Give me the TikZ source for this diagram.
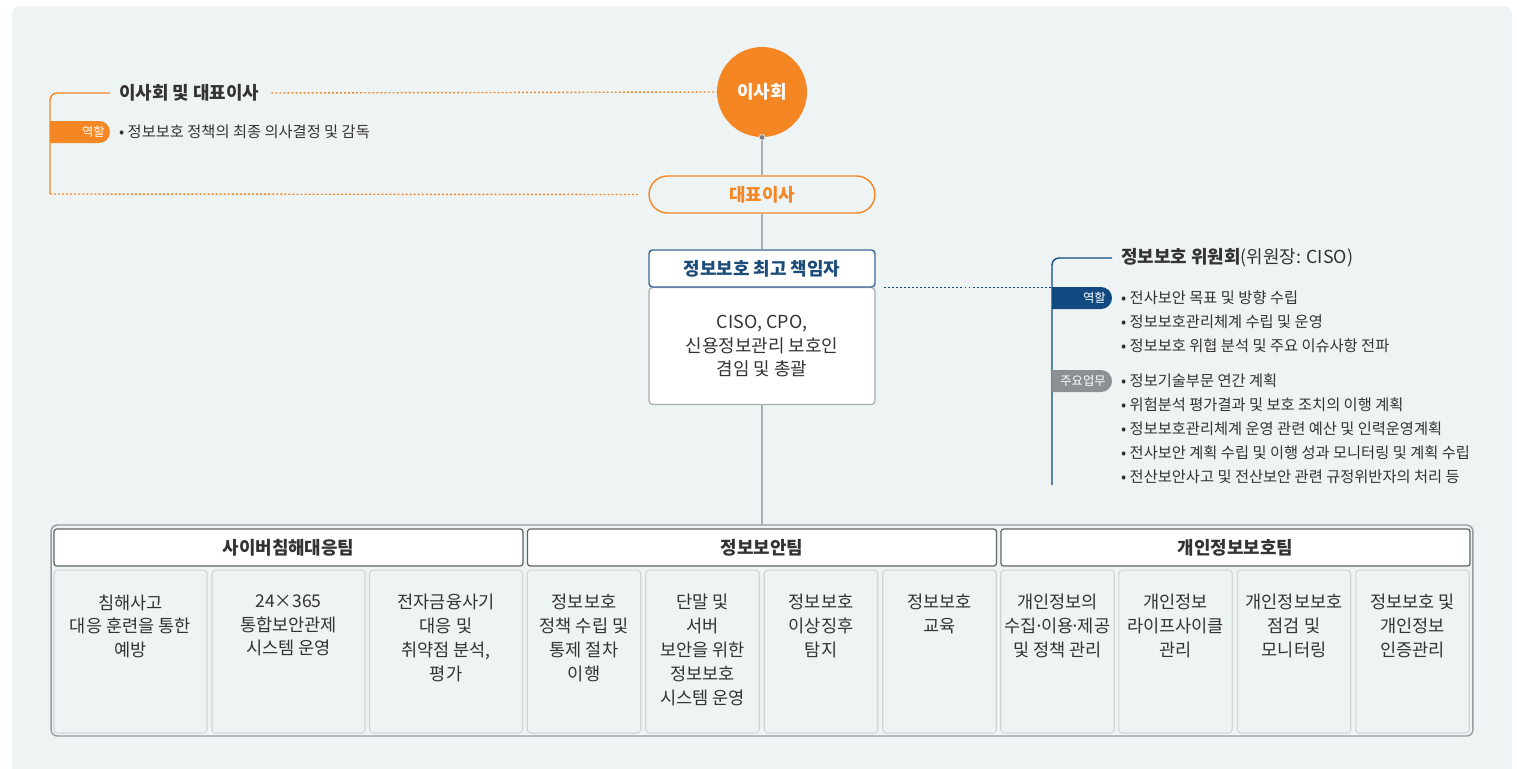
\documentclass[tikz,border=0pt]{standalone}
\usepackage{fontspec}
\setmainfont{Noto Sans CJK KR}
\usepackage{xcolor}
\usetikzlibrary{positioning}
\definecolor{bgc}{RGB}{238,243,243}
\definecolor{orc}{RGB}{245,134,36}
\definecolor{blc}{RGB}{16,74,128}
\definecolor{blt}{RGB}{28,76,122}
\definecolor{bld}{RGB}{62,104,150}
\definecolor{grc}{RGB}{138,144,147}
\definecolor{lnc}{RGB}{168,174,177}
\definecolor{txc}{RGB}{51,51,51}
\definecolor{cbd}{RGB}{208,213,214}
\definecolor{obd}{RGB}{150,155,158}
\definecolor{hbd}{RGB}{95,100,103}

\begin{document}
\begin{tikzpicture}[x=0.02cm, y=-0.02cm,
  ttl/.style={font=\fontsize{10.2}{12}\selectfont\bfseries, text=txc, inner sep=1pt},
  bl/.style={font=\fontsize{8.7}{13.6}\selectfont, text=txc, align=left, inner sep=1pt},
  tg/.style={font=\fontsize{7}{8}\selectfont, text=white, inner sep=0pt},
  hd/.style={draw=hbd, fill=white, rounded corners=1.5pt, minimum width=9.38cm, minimum height=0.74cm, line width=0.7pt, font=\fontsize{10.2}{12}\selectfont\bfseries, text=txc},
  cl/.style={draw=cbd, fill=bgc, rounded corners=2pt, minimum height=3.26cm, line width=0.6pt},
  ct/.style={font=\fontsize{10}{13.6}\selectfont, text=txc, align=center, anchor=north, inner sep=0pt, yshift=-14pt},
  ln/.style={draw=lnc, line width=1.1pt},
  odl/.style={draw=orc, line width=0.8pt, dash pattern=on 1.1pt off 1.2pt},
  bdl/.style={draw=blc, line width=0.8pt, dash pattern=on 1.1pt off 1.2pt}]
\useasboundingbox (0,0) rectangle (1517,768);
\fill[bgc, rounded corners=4.5pt] (12,6) rectangle (1512,790);

% top of the chart
\node[circle, fill=orc, minimum size=1.8cm, inner sep=0pt, font=\fontsize{10.2}{12}\selectfont\bfseries, text=white] (board) at (762,92) {이사회};
\node[draw=orc, fill=bgc, rounded corners=0.37cm, minimum width=4.52cm, minimum height=0.74cm, line width=0.8pt, font=\fontsize{10.2}{12}\selectfont\bfseries, text=orc] (ceo) at (762,194.5) {대표이사};
\node[draw=lnc, fill=white, rounded corners=2pt, minimum width=4.52cm, minimum height=2.34cm, line width=0.7pt, font=\fontsize{10.2}{13.6}\selectfont, text=txc, align=center] (cisobody) at (762,346) {CISO, CPO,\\신용정보관리 보호인\\겸임 및 총괄};
\node[draw=bld, fill=white, rounded corners=2pt, minimum width=4.52cm, minimum height=0.74cm, line width=0.8pt, font=\fontsize{10.2}{12}\selectfont\bfseries, text=blt] (cisohead) at (762,268.5) {정보보호 최고 책임자};

% teams
\node[draw=obd, fill=bgc, rounded corners=3.5pt, minimum width=28.44cm, minimum height=4.22cm, line width=0.8pt] (org) at (762,630.5) {};
\node[hd] (team1) at (288.5,547.5) {사이버침해대응팀};
\node[hd] (team2) at (762,547.5) {정보보안팀};
\node[hd] (team3) at (1235.5,547.5) {개인정보보호팀};

\node[cl, minimum width=3.06cm, label={[ct]north:{침해사고\\대응 훈련을 통한\\예방}}] (c1) at (130.5,651.5) {};
\node[cl, minimum width=3.06cm, label={[ct]north:{24×365\\통합보안관제\\시스템 운영}}] (c2) at (288.5,651.5) {};
\node[cl, minimum width=3.06cm, label={[ct]north:{전자금융사기\\대응 및\\취약점 분석,\\평가}}] (c3) at (446,651.5) {};
\node[cl, minimum width=2.27cm, label={[ct]north:{정보보호\\정책 수립 및\\통제 절차\\이행}}] (c4) at (584,651.5) {};
\node[cl, minimum width=2.27cm, label={[ct]north:{단말 및\\서버\\보안을 위한\\정보보호\\시스템 운영}}] (c5) at (702.5,651.5) {};
\node[cl, minimum width=2.27cm, label={[ct]north:{정보보호\\이상징후\\탐지}}] (c6) at (821,651.5) {};
\node[cl, minimum width=2.27cm, label={[ct]north:{정보보호\\교육}}] (c7) at (939.5,651.5) {};
\node[cl, minimum width=2.27cm, label={[ct]north:{개인정보의\\수집\kern-1.6pt·\kern-1.6pt이용\kern-1.6pt·\kern-1.6pt제공\\및 정책 관리}}] (c8) at (1057.5,651.5) {};
\node[cl, minimum width=2.27cm, label={[ct]north:{개인정보\\라이프사이클\\관리}}] (c9) at (1175.5,651.5) {};
\node[cl, minimum width=2.27cm, label={[ct]north:{개인정보보호\\점검 및\\모니터링}}] (c10) at (1294,651.5) {};
\node[cl, minimum width=2.27cm, label={[ct]north:{정보보호 및\\개인정보\\인증관리}}] (c11) at (1412.5,651.5) {};

\draw[ln] (board.south) -- (ceo.north);
\draw[ln] (ceo.south) -- (cisohead.north);
\draw[ln] (cisobody.south) -- (org.north);
\filldraw[fill=lnc!70!black, draw=white!60!lnc, line width=0.5pt] (board.south) circle (1.6pt);

% board and ceo
\node[ttl, anchor=west] (bdttl) at (117,93) {이사회 및 대표이사};
\coordinate (bdbot) at (50,194);
\draw[draw=orc, line width=0.8pt, rounded corners=4pt] (bdttl.west) ++(-7,0) -| (bdbot);
\draw[odl, shorten <=0.2cm] (bdttl.east) -- (board.west);
\draw[odl, shorten >=0.18cm] (bdbot) -- (ceo.west);
\fill[orc] (50,121) -- (99,121) arc[start angle=90, end angle=-90, radius=0.22cm] -- (50,143) -- cycle;
\node[tg, anchor=east] (bdrole) at (105,132) {역할};
\node[bl, anchor=west] (bdlist) at (117,132) {• 정보보호 정책의 최종 의사결정 및 감독};

% committee
\node[ttl, anchor=west] (comttl) at (1119,258) {정보보호 위원회{\mdseries(위원장: CISO)}};
\coordinate (combot) at (1052,485);
\draw[draw=blc, line width=0.8pt, rounded corners=4pt] (comttl.west) ++(-7,0) -| (combot);
\draw[bdl, shorten <=0.16cm] (cisohead.south east) -- (cisohead.south east -| combot);
\fill[blc] (1052,287) -- (1101,287) arc[start angle=90, end angle=-90, radius=0.22cm] -- (1052,309) -- cycle;
\node[tg, anchor=east] (comrole) at (1106,298) {역할};
\fill[grc] (1052,370) -- (1101,370) arc[start angle=90, end angle=-90, radius=0.22cm] -- (1052,392) -- cycle;
\node[tg, anchor=east] (comduty) at (1106,381) {주요업무};
\node[bl, anchor=west] (comlist1) at (1119,322) {• 전사보안 목표 및 방향 수립\\• 정보보호관리체계 수립 및 운영\\• 정보보호 위협 분석 및 주요 이슈사항 전파};
\node[bl, anchor=west] (comlist2) at (1119,429) {• 정보기술부문 연간 계획\\• 위험분석 평가결과 및 보호 조치의 이행 계획\\• 정보보호관리체계 운영 관련 예산 및 인력운영계획\\• 전사보안 계획 수립 및 이행 성과 모니터링 및 계획 수립\\• 전산보안사고 및 전산보안 관련 규정위반자의 처리 등};
\end{tikzpicture}
\end{document}
